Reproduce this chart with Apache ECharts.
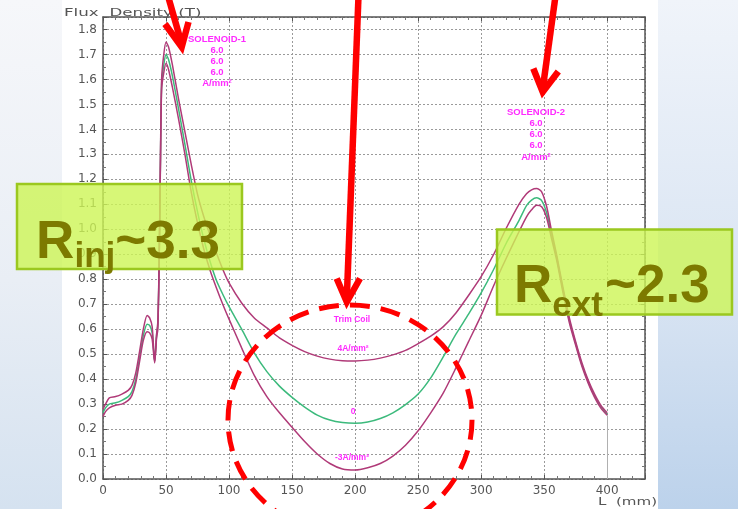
<!DOCTYPE html>
<html>
<head>
<meta charset="utf-8">
<script src="https://cdn.jsdelivr.net/npm/echarts@6/dist/echarts.min.js"></script>
<style>
html,body{margin:0;padding:0;}
#c{width:738px;height:509px;
background:
 linear-gradient(#fff,#fff) 62px 0 / 596px 100% no-repeat,
 linear-gradient(to bottom,#f0f4fa,#dae5f3 55%,#bcd2eb) 658px 0 / 80px 100% no-repeat,
 linear-gradient(to bottom,#f6f7fa,#e9eef5 55%,#d5e2f0) 0 0 / 62px 100% no-repeat;}
</style>
</head>
<body>
<div id="c"></div>
<script>
// Position along axis, L (mm)
const L = [0, 2, 5, 10, 15, 20, 23, 26, 29, 32, 35, 37, 39, 41, 42.5, 43.5, 44.5, 45.5, 46.5, 48,
  50, 52, 55, 60, 65, 70, 75, 80, 85, 90, 95, 100, 110, 120, 130, 140, 150, 160, 170, 180,
  190, 200, 210, 220, 230, 240, 250, 260, 270, 280, 290, 300, 310, 320, 330, 336, 340, 344, 348, 352,
  356, 360, 365, 370, 375, 380, 385, 390, 395, 400];

// Flux density (T), trim coil +4 A/mm2
const trimPlus4 = [0.28, 0.30, 0.325, 0.33, 0.34, 0.355, 0.375, 0.425, 0.51, 0.60,
  0.655, 0.645, 0.61, 0.47, 0.58, 0.63, 0.86, 1.25, 1.60, 1.69,
  1.75, 1.73, 1.66, 1.52, 1.39, 1.26, 1.14, 1.05, 0.975, 0.905,
  0.84, 0.785, 0.705, 0.645, 0.605, 0.565, 0.535, 0.51, 0.492, 0.48,
  0.474, 0.473, 0.476, 0.484, 0.497, 0.515, 0.542, 0.572, 0.61, 0.665,
  0.735, 0.81, 0.9, 1.005, 1.1, 1.142, 1.158, 1.163, 1.15, 1.09,
  0.99, 0.895, 0.765, 0.645, 0.55, 0.465, 0.395, 0.34, 0.295, 0.265];

// Flux density (T), trim coil 0
const trimZero = [0.265, 0.285, 0.30, 0.305, 0.315, 0.33, 0.35, 0.40, 0.485, 0.575,
  0.62, 0.615, 0.585, 0.47, 0.575, 0.615, 0.85, 1.24, 1.58, 1.65,
  1.70, 1.68, 1.615, 1.48, 1.34, 1.195, 1.07, 0.96, 0.87, 0.795,
  0.74, 0.69, 0.60, 0.505, 0.43, 0.372, 0.327, 0.288, 0.256, 0.236,
  0.226, 0.223, 0.228, 0.242, 0.265, 0.298, 0.34, 0.405, 0.49, 0.58,
  0.66, 0.745, 0.84, 0.945, 1.035, 1.095, 1.117, 1.126, 1.115, 1.065,
  0.975, 0.885, 0.755, 0.635, 0.543, 0.457, 0.389, 0.333, 0.29, 0.26];

// Flux density (T), trim coil -3 A/mm2
const trimMinus3 = [0.25, 0.27, 0.285, 0.295, 0.30, 0.315, 0.335, 0.385, 0.47, 0.555,
  0.59, 0.585, 0.56, 0.465, 0.565, 0.60, 0.84, 1.23, 1.56, 1.62,
  1.665, 1.64, 1.57, 1.44, 1.30, 1.15, 1.025, 0.92, 0.835, 0.765,
  0.70, 0.64, 0.525, 0.415, 0.33, 0.265, 0.207, 0.15, 0.10, 0.062,
  0.04, 0.036, 0.045, 0.062, 0.092, 0.135, 0.193, 0.265, 0.345, 0.445,
  0.55, 0.655, 0.775, 0.885, 0.99, 1.05, 1.078, 1.096, 1.09, 1.045,
  0.96, 0.875, 0.745, 0.625, 0.535, 0.45, 0.383, 0.327, 0.284, 0.255];

const seriesNames = ['4A/mm²', '0', '-3A/mm²'];
const xTickLabels = ['0', '50', '100', '150', '200', '250', '300', '350', '400'];
const yTickLabels = ['0.0','0.1','0.2','0.3','0.4','0.5','0.6','0.7','0.8','0.9','1.0','1.1','1.2','1.3','1.4','1.5','1.6','1.7','1.8'];
const solenoid1Text = ['SOLENOID-1', '6.0', '6.0', '6.0', 'A/mm²'];
const solenoid2Text = ['SOLENOID-2', '6.0', '6.0', '6.0', 'A/mm²'];
const trimText = ['Trim Coil', '4A/mm²', '0', '-3A/mm²'];
const yTitle = 'Flux  Density (T)';
const xTitle = 'L  (mm)';

const pairs = ys => L.map((x, i) => [x, ys[i]]);
const last = L.length - 1;

const chart = echarts.init(document.getElementById('c'), null, {renderer: 'canvas'});

const axisColor = '#555';
const labelFont = {color: '#555', fontFamily: 'DejaVu Sans', fontSize: 12};
const split = {show: true, lineStyle: {color: '#9a9a9a', type: [2, 2], width: 1}};

const xLabelFmt = v => { const i = xTickLabels.indexOf(String(v)); return i >= 0 ? xTickLabels[i] : ''; };
const yLabelFmt = v => { const s = v.toFixed(1); return (Math.abs(v * 10 - Math.round(v * 10)) < 1e-6 && yTickLabels.includes(s)) ? s : ''; };

const magenta = '#b03a78';
const green = '#3cba7c';
const red = '#ff0000';
const olive = '#7d7a00';
const pink = '#ff2bff';

const txt = (text, x, y, font, fill, align, vAlign, extra) => Object.assign({
  type: 'text', x: x, y: y, z: 110, silent: true,
  style: {text: text, font: font, fill: fill, align: align || 'left', verticalAlign: vAlign || 'middle'}
}, extra || {});

const arrow = (shaft, head) => [
  {type: 'polyline', z: 120, silent: true, shape: {points: shaft}, style: {stroke: red, lineWidth: 6.5, fill: null, lineCap: 'butt'}},
  {type: 'polyline', z: 120, silent: true, shape: {points: head}, style: {stroke: red, lineWidth: 6.5, fill: null, lineJoin: 'miter', lineCap: 'butt'}}
];

const graphics = [
  txt(yTitle, 64, 13, '11px "DejaVu Sans"', '#555', 'left', 'middle', {scaleX: 1.52}),
  txt(xTitle, 598, 502, '11px "DejaVu Sans"', '#555', 'left', 'middle', {scaleX: 1.37}),
  txt(solenoid1Text.join('\n'), 217, 33.5, '', pink, 'center', 'top', {style: {text: solenoid1Text.join('\n'), font: 'bold 9.5px "Liberation Sans"', fill: pink, align: 'center', verticalAlign: 'top', lineHeight: 11}}),
  txt(solenoid2Text.join('\n'), 536, 106.5, '', pink, 'center', 'top', {style: {text: solenoid2Text.join('\n'), font: 'bold 9.5px "Liberation Sans"', fill: pink, align: 'center', verticalAlign: 'top', lineHeight: 11.2}}),
  txt(trimText[0], 352, 320, 'bold 8.5px "Liberation Sans"', pink, 'center'),
  txt(trimText[1], 353, 349, 'bold 8.5px "Liberation Sans"', pink, 'center'),
  txt(trimText[2], 353, 412, 'bold 8.5px "Liberation Sans"', pink, 'center'),
  txt(trimText[3], 352, 458, 'bold 8.5px "Liberation Sans"', pink, 'center'),
  {type: 'rect', z: 105, silent: true, shape: {x: 17, y: 184, width: 225, height: 85},
    style: {fill: 'rgba(205,245,85,0.8)', stroke: '#9bc81f', lineWidth: 2.5}},
  {type: 'rect', z: 105, silent: true, shape: {x: 497, y: 229.5, width: 235, height: 85},
    style: {fill: 'rgba(205,245,85,0.8)', stroke: '#9bc81f', lineWidth: 2.5}},
  txt('R', 36, 243, 'bold 53px "Liberation Sans"', olive),
  txt('inj', 74.5, 257.4, 'bold 35px "Liberation Sans"', olive),
  txt('~3.3', 115.3, 243, 'bold 53px "Liberation Sans"', olive),
  txt('R', 514, 287.6, 'bold 53px "Liberation Sans"', olive),
  txt('ext', 552.3, 305.9, 'bold 35px "Liberation Sans"', olive),
  txt('~2.3', 605, 287.6, 'bold 53px "Liberation Sans"', olive),
  {type: 'ellipse', z: 115, silent: true, shape: {cx: 350, cy: 420, rx: 122, ry: 115},
    style: {fill: null, stroke: red, lineWidth: 5, lineDash: [20, 11]}}
].concat(
  arrow([[168, -4], [181.7, 44]], [[165, 24], [181.7, 47], [188.5, 22]]),
  arrow([[358.5, -4], [346.8, 298]], [[336.7, 278.5], [346.8, 302], [360, 278.5]]),
  arrow([[555.5, -4], [542.7, 89]], [[533.3, 68.5], [542.7, 92], [558.3, 71.5]])
);

const mkSeries = (name, ys, color, extra) => Object.assign({
  name: name, type: 'line', data: pairs(ys), showSymbol: false, symbol: 'none',
  smooth: 0.25, silent: true,
  lineStyle: {color: color, width: 1.5}, itemStyle: {color: color}, z: 3
}, extra || {});

chart.setOption({
  backgroundColor: 'transparent',
  animation: false,
  grid: {left: 103, top: 17, right: 93, bottom: 30, containLabel: false, outerBoundsMode: 'none'},
  xAxis: [
    {type: 'value', position: 'bottom', min: 0, max: 430, interval: 50,
      axisLine: {show: true, onZero: false, lineStyle: {color: axisColor, width: 1.5}},
      axisTick: {show: true, inside: true, length: 4, lineStyle: {color: axisColor}},
      minorTick: {show: true, splitNumber: 5, length: 3, lineStyle: {color: '#777'}},
      axisLabel: Object.assign({formatter: xLabelFmt, margin: 6}, labelFont),
      splitLine: split},
    {type: 'value', position: 'top', min: 0, max: 430, interval: 50,
      axisLine: {show: true, onZero: false, lineStyle: {color: axisColor, width: 1.5}},
      axisTick: {show: true, inside: true, length: 4, lineStyle: {color: axisColor}},
      minorTick: {show: true, splitNumber: 5, length: 3, lineStyle: {color: '#777'}},
      axisLabel: {show: false}, splitLine: {show: false}}
  ],
  yAxis: [
    {type: 'value', position: 'left', min: 0, max: 1.85, interval: 0.1,
      axisLine: {show: true, onZero: false, lineStyle: {color: axisColor, width: 1.5}},
      axisTick: {show: true, inside: true, length: 4, lineStyle: {color: axisColor}},
      minorTick: {show: true, splitNumber: 2, length: 3, lineStyle: {color: '#777'}},
      axisLabel: Object.assign({formatter: yLabelFmt, margin: 6}, labelFont),
      splitLine: split},
    {type: 'value', position: 'right', min: 0, max: 1.85, interval: 0.1,
      axisLine: {show: true, onZero: false, lineStyle: {color: axisColor, width: 1.5}},
      axisTick: {show: true, inside: true, length: 4, lineStyle: {color: axisColor}},
      minorTick: {show: true, splitNumber: 2, length: 3, lineStyle: {color: '#777'}},
      axisLabel: {show: false}, splitLine: {show: false}}
  ],
  series: [
    mkSeries(seriesNames[1], trimZero, green, {
      markLine: {silent: true, symbol: 'none', label: {show: false},
        lineStyle: {color: '#b0b0b0', type: 'solid', width: 1},
        data: [[{coord: [L[last], 0]}, {coord: [L[last], trimMinus3[last]]}]]}
    }),
    mkSeries(seriesNames[0], trimPlus4, magenta),
    mkSeries(seriesNames[2], trimMinus3, magenta)
  ],
  graphic: {elements: graphics}
});
</script>
</body>
</html>
